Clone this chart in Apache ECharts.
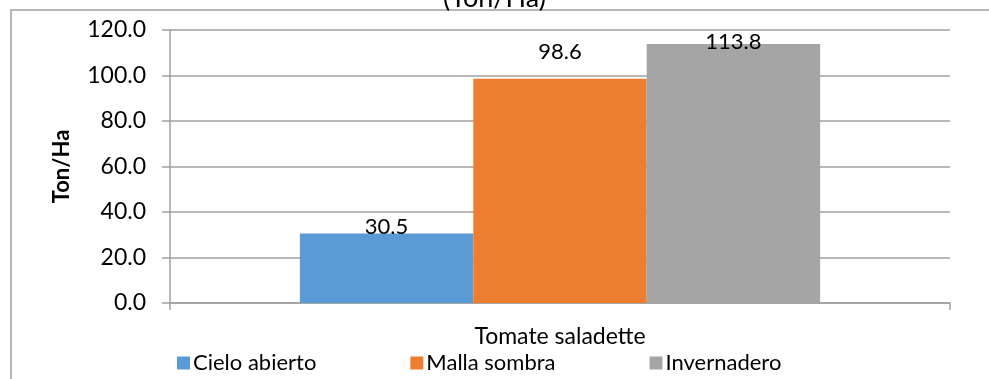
<!DOCTYPE html>
<html>
<head>
<meta charset="utf-8">
<script src="https://cdn.jsdelivr.net/npm/echarts@6/dist/echarts.min.js"></script>
<style>
  html, body { margin: 0; padding: 0; background: #fff; }
  #chart { width: 989px; height: 379px; }
</style>
</head>
<body>
<div id="chart"></div>
<script>
// datos del gráfico
var categories = ['Tomate saladette'];
var seriesNames = ['Cielo abierto', 'Malla sombra', 'Invernadero'];
var cieloAbierto = [30.5];
var mallaSombra = [98.6];
var invernadero = [113.8];
var colors = ['#5B9BD5', '#ED7D31', '#A5A5A5'];

var font = 'Lato, "Open Sans", sans-serif';
var chart = echarts.init(document.getElementById('chart'));

function barSeries(name, values, dist) {
  return {
    name: name,
    type: 'bar',
    data: values,
    barGap: '0%',
    barCategoryGap: '33.3%',
    label: {
      show: true,
      position: 'top',
      distance: dist,
      color: '#000',
      fontFamily: font,
      fontSize: 22,
      formatter: function (p) { return p.value.toFixed(1); }
    }
  };
}

var option = {
  backgroundColor: '#ffffff',
  color: colors,
  animation: false,
  title: {
    text: '(Ton/Ha)',
    left: 'center',
    top: -20,
    textStyle: { fontFamily: font, fontSize: 27, fontWeight: 'normal', color: '#000' }
  },
  graphic: [{
    type: 'rect',
    shape: { x: 11, y: 10, width: 1000, height: 400 },
    style: { fill: 'none', stroke: '#A0A0A0', lineWidth: 1.5 },
    silent: true
  }],
  legend: {
    bottom: 0,
    left: 172,
    itemWidth: 13,
    itemHeight: 13,
    itemGap: 94,
    icon: 'rect',
    textStyle: { fontFamily: font, fontSize: 22, color: '#000', padding: [0, 0, 0, -2] },
    data: seriesNames
  },
  grid: { left: 170, right: 39, top: 30, bottom: 76 },
  xAxis: {
    type: 'category',
    data: categories,
    axisLine: { lineStyle: { color: '#A0A0A0', width: 1.5 } },
    axisTick: { show: true, length: 7, lineStyle: { color: '#A0A0A0', width: 1.5 } },
    axisLabel: { fontFamily: font, fontSize: 23, color: '#000', margin: 22 }
  },
  yAxis: {
    type: 'value',
    min: 0,
    max: 120,
    interval: 20,
    name: 'Ton/Ha',
    nameLocation: 'middle',
    nameGap: 97,
    nameTextStyle: { fontFamily: font, fontSize: 22, fontWeight: 'bold', color: '#000' },
    axisLine: { show: true, lineStyle: { color: '#A0A0A0', width: 1.5 } },
    axisTick: { show: true, length: 8, lineStyle: { color: '#A0A0A0', width: 1.5 } },
    splitLine: { lineStyle: { color: '#A0A0A0', width: 1.5 } },
    axisLabel: {
      fontFamily: font, fontSize: 23, color: '#000', margin: 24,
      formatter: function (v) { return v.toFixed(1); }
    }
  },
  series: [
    barSeries(seriesNames[0], cieloAbierto, -4),
    barSeries(seriesNames[1], mallaSombra, 16),
    barSeries(seriesNames[2], invernadero, -9)
  ]
};

chart.setOption(option);
</script>
</body>
</html>
